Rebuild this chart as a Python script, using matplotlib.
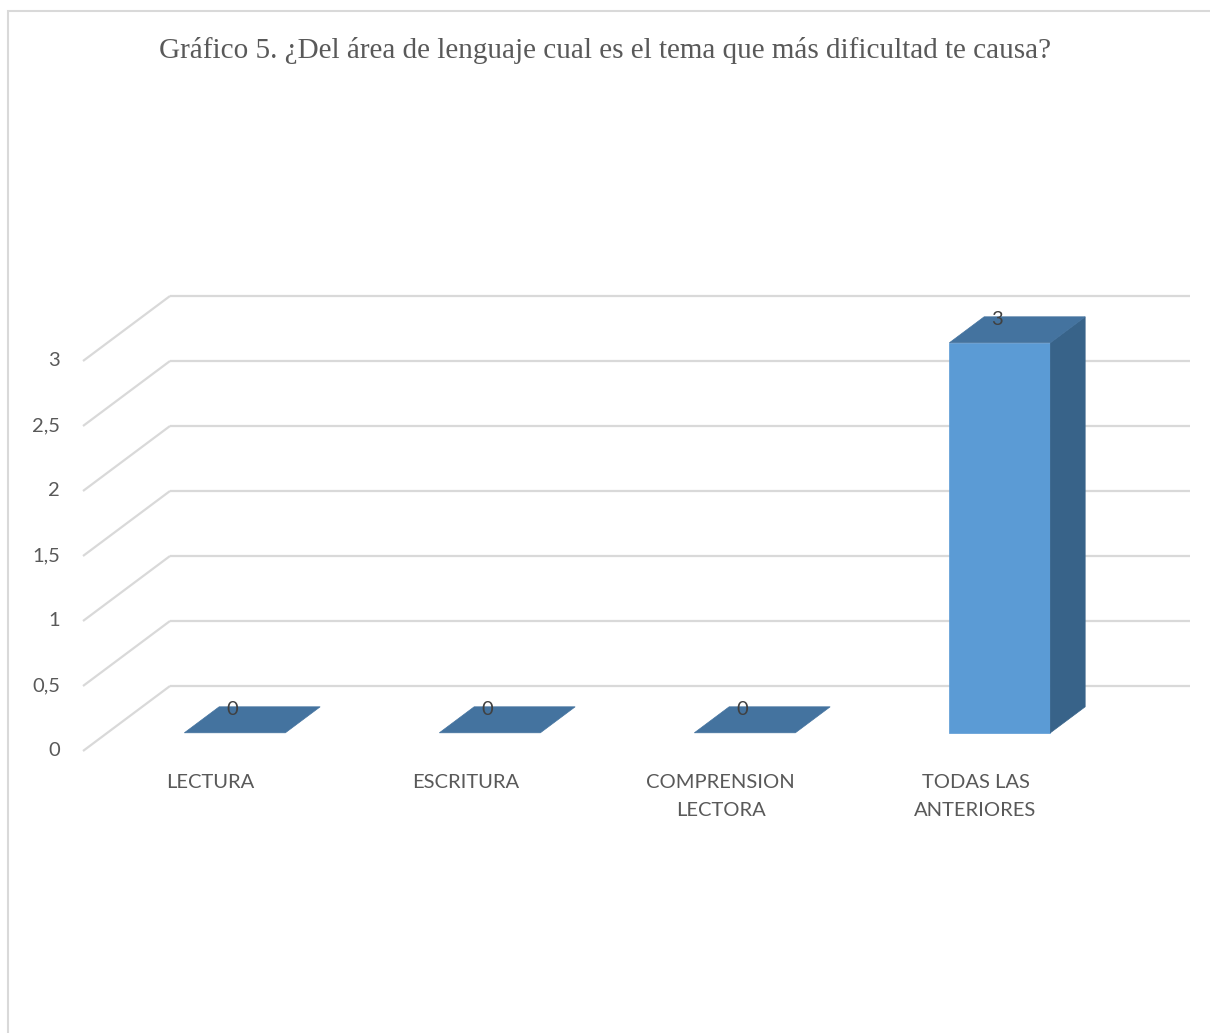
import matplotlib
matplotlib.use("Agg")
import matplotlib.pyplot as plt
from matplotlib.patches import Polygon, Rectangle

# datos del grafico
categorias = ["LECTURA", "ESCRITURA", "COMPRENSION\nLECTORA", "TODAS LAS\nANTERIORES"]
valores = [0, 0, 0, 3]
ticks = [0, 0.5, 1, 1.5, 2, 2.5, 3]
titulo = "Gráfico 5. ¿Del área de lenguaje cual es el tema que más dificultad te causa?"

W, H = 1210, 1033
px_cat = 255.0      # pixeles por categoria
px_val = 130.0      # pixeles por unidad de valor
x_izq = 83.0        # borde izquierdo del plano frontal
y_cero = 751.0      # valor 0 en el plano frontal
# desplazamiento de profundidad (pared trasera) en unidades de datos
prof_x = 87.0 / px_cat
prof_y = 0.5
ancho_barra = 101.0 / px_cat
d1, d2 = 0.28, 0.68   # profundidad de la barra (fraccion)

gris_grid = "#D9D9D9"
gris_txt = "#595959"
c_frente = "#5B9BD5"
c_arriba = "#44739F"
c_lado = "#386389"

fig = plt.figure(figsize=(W / 100, H / 100), dpi=100)
ax = fig.add_axes([0, 0, 1, 1])
x0 = -0.5 - x_izq / px_cat
y0 = -(H - y_cero) / px_val
ax.set_xlim(x0, x0 + W / px_cat)
ax.set_ylim(y0, y0 + H / px_val)
ax.axis("off")

n = len(categorias)
izq = -0.5
der = n - 0.5

# rejilla: pared trasera y pared lateral
for t in ticks:
    ax.plot([izq + prof_x, der + prof_x], [t + prof_y, t + prof_y],
            color=gris_grid, lw=1.6, solid_capstyle="butt", zorder=1)
    ax.plot([izq, izq + prof_x], [t, t + prof_y],
            color=gris_grid, lw=1.6, solid_capstyle="butt", zorder=1)
    etiqueta = ("%g" % t).replace(".", ",")
    ax.text(izq - 0.09, t, etiqueta, ha="right", va="center",
            fontsize=14.5, color=gris_txt, family="Lato")

# barras 3D
for i, v in enumerate(valores):
    xl = i - ancho_barra / 2 + d1 * prof_x
    xr = i + ancho_barra / 2 + d1 * prof_x
    yb = d1 * prof_y
    dx = (d2 - d1) * prof_x
    dy = (d2 - d1) * prof_y
    frente = [(xl, yb), (xr, yb), (xr, yb + v), (xl, yb + v)]
    arriba = [(xl, yb + v), (xr, yb + v), (xr + dx, yb + v + dy), (xl + dx, yb + v + dy)]
    lado = [(xr, yb), (xr + dx, yb + dy), (xr + dx, yb + v + dy), (xr, yb + v)]
    if v > 0:
        ax.add_patch(Polygon(frente, closed=True, fc=c_frente, ec=c_frente, lw=0.5, zorder=3))
        ax.add_patch(Polygon(lado, closed=True, fc=c_lado, ec=c_lado, lw=0.5, zorder=3))
    ax.add_patch(Polygon(arriba, closed=True, fc=c_arriba, ec=c_arriba, lw=0.5, zorder=3))
    ax.text(i + d1 * prof_x - 0.01, v + d2 * prof_y - 0.02, str(v), ha="center", va="center",
            fontsize=14.5, color="#404040", family="Lato", zorder=4)

# etiquetas de categoria
for i, c in enumerate(categorias):
    ax.text(i, -0.18, c, ha="center", va="top", fontsize=14.5, color=gris_txt,
            family="Lato", linespacing=1.75)

# marco del grafico
fig.patches.append(Rectangle((8 / W, -0.01), 1.05, 1 - 11 / H + 0.01, transform=fig.transFigure,
                             fill=False, ec=gris_grid, lw=1.5))

fig.text(0.5, 1 - 51 / H, titulo, ha="center", va="center", fontsize=21,
         color=gris_txt, family="Liberation Serif")

fig.savefig("out.png", dpi=100)
